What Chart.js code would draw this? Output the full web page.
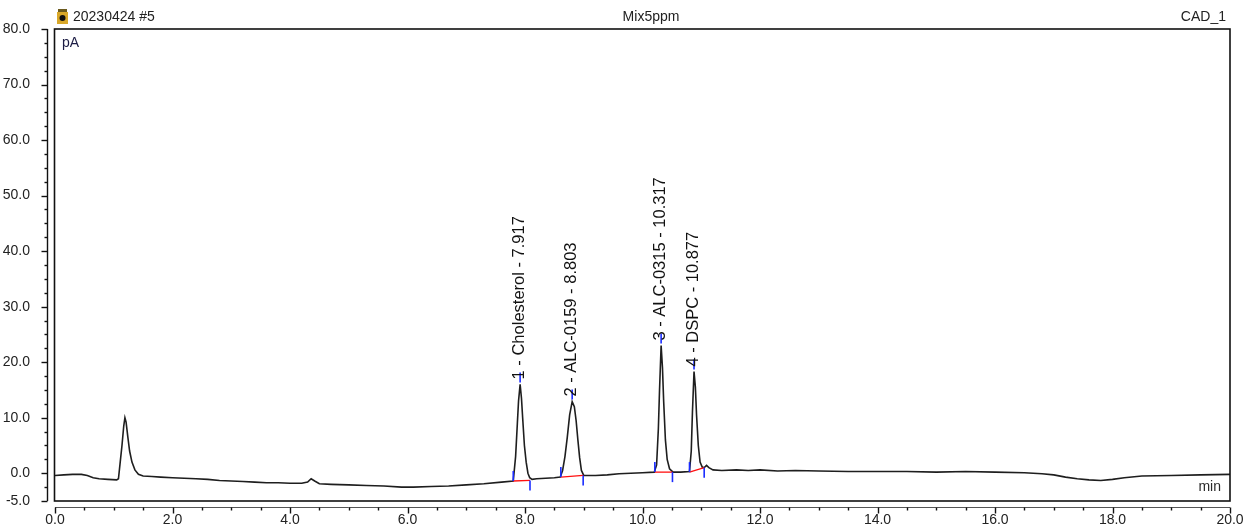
<!DOCTYPE html>
<html>
<head>
<meta charset="utf-8">
<script src="https://cdn.jsdelivr.net/npm/chart.js@4"></script>
<style>
  body { margin: 0; background: #fff; }
  canvas { display: block; }
</style>
</head>
<body>
<canvas id="chrom" width="1246" height="527"></canvas>
<script>
// retention time (min) and detector signal (pA)
let times = [0.00, 0.15, 0.30, 0.45, 0.55, 0.65, 0.75, 0.90, 1.05, 1.08, 1.11, 1.14, 1.17, 1.19, 1.21, 1.24, 1.27, 1.31, 1.36, 1.42,
  1.50, 1.65, 1.80, 2.00, 2.20, 2.40, 2.60, 2.80, 3.00, 3.20, 3.40, 3.60, 3.80, 4.00, 4.20, 4.30, 4.36, 4.42, 4.50, 4.70,
  5.00, 5.30, 5.60, 5.90, 6.10, 6.40, 6.70, 7.00, 7.30, 7.60, 7.80, 7.84, 7.87, 7.89, 7.917, 7.94, 7.96, 7.99, 8.02, 8.05,
  8.08, 8.12, 8.20, 8.35, 8.50, 8.60, 8.64, 8.68, 8.72, 8.76, 8.803, 8.84, 8.87, 8.90, 8.93, 8.96, 9.00, 9.20, 9.40, 9.60,
  9.80, 10.00, 10.20, 10.24, 10.27, 10.29, 10.317, 10.34, 10.36, 10.39, 10.42, 10.46, 10.52, 10.65, 10.80, 10.83, 10.85, 10.877, 10.90, 10.92,
  10.95, 10.98, 11.02, 11.06, 11.09, 11.13, 11.20, 11.35, 11.60, 11.80, 12.00, 12.30, 12.60, 13.00, 13.50, 14.00, 14.50, 15.00, 15.50, 16.00,
  16.50, 16.80, 17.00, 17.20, 17.40, 17.60, 17.80, 18.00, 18.20, 18.50, 19.00, 19.50, 20.00];
let signal = [-0.4, -0.3, -0.2, -0.2, -0.4, -0.8, -1.0, -1.1, -1.2, -1.0, 2.0, 5.0, 8.5, 10.0, 9.2, 6.5, 4.0, 2.0, 0.6, -0.2,
  -0.5, -0.6, -0.7, -0.8, -0.9, -1.0, -1.1, -1.3, -1.4, -1.5, -1.6, -1.7, -1.7, -1.8, -1.8, -1.6, -1.0, -1.4, -1.9, -2.0,
  -2.1, -2.2, -2.3, -2.5, -2.5, -2.4, -2.3, -2.1, -1.9, -1.6, -1.4, 3.0, 9.0, 13.0, 16.0, 13.5, 10.0, 5.0, 2.0, 0.0,
  -0.8, -1.1, -1.0, -0.9, -0.8, -0.7, 0.5, 3.0, 6.5, 10.5, 12.9, 12.0, 9.5, 6.0, 2.8, 0.5, -0.4, -0.4, -0.3, -0.1,
  0.0, 0.1, 0.2, 1.5, 8.0, 15.0, 23.0, 19.0, 13.0, 6.0, 2.5, 0.8, 0.2, 0.2, 0.3, 4.0, 11.0, 18.3, 15.5, 10.5,
  5.0, 2.0, 1.0, 1.1, 1.4, 1.0, 0.6, 0.5, 0.6, 0.5, 0.6, 0.4, 0.5, 0.4, 0.3, 0.3, 0.3, 0.2, 0.3, 0.2,
  0.1, -0.1, -0.3, -0.7, -1.0, -1.2, -1.3, -1.1, -0.8, -0.5, -0.4, -0.3, -0.2];

// peak table
let peakNames = ['Cholesterol', 'ALC-0159', 'ALC-0315', 'DSPC'];
let peakTimes = [7.917, 8.803, 10.317, 10.877];
let peakHeights = [16.0, 12.9, 23.0, 18.3];
let startTimes = [7.80, 8.61, 10.21, 10.80];
let startValues = [-1.4, -0.7, 0.2, 0.2];
let endTimes = [8.085, 8.99, 10.51, 11.05];
let endValues = [-1.3, -0.4, 0.2, 1.0];

let xTicks = [0, 2, 4, 6, 8, 10, 12, 14, 16, 18, 20];
let yTicks = [-5, 0, 10, 20, 30, 40, 50, 60, 70, 80];
let xMinorStep = 0.5;
let yMinorStep = 2.5;

const FONT = "'Liberation Sans', Arial, sans-serif";

const chromPlugin = {
  id: 'chrom',
  afterDatasetsDraw(chart) {
    const ctx = chart.ctx;
    const a = chart.chartArea;
    const xs = chart.scales.x;
    const ys = chart.scales.y;
    ctx.save();

    // integration baselines and marks
    for (let i = 0; i < peakNames.length; i++) {
      const sx = xs.getPixelForValue(startTimes[i]);
      const sy = ys.getPixelForValue(startValues[i]);
      const ex = xs.getPixelForValue(endTimes[i]);
      const ey = ys.getPixelForValue(endValues[i]);
      ctx.strokeStyle = '#ff1010';
      ctx.lineWidth = 1.3;
      ctx.beginPath(); ctx.moveTo(sx, sy); ctx.lineTo(ex, ey); ctx.stroke();
      ctx.strokeStyle = '#1a2cff';
      ctx.lineWidth = 1.6;
      ctx.beginPath(); ctx.moveTo(sx, sy); ctx.lineTo(sx, sy - 10); ctx.stroke();
      ctx.beginPath(); ctx.moveTo(ex, ey); ctx.lineTo(ex, ey + 10); ctx.stroke();

      const px = xs.getPixelForValue(peakTimes[i]);
      const py = ys.getPixelForValue(peakHeights[i]);
      ctx.beginPath(); ctx.moveTo(px, py - 2); ctx.lineTo(px, py - 12); ctx.stroke();

      ctx.save();
      ctx.translate(px - 0.5, py - 5);
      ctx.rotate(-Math.PI / 2);
      ctx.fillStyle = '#111';
      ctx.font = '16.5px ' + FONT;
      ctx.textAlign = 'left';
      ctx.textBaseline = 'middle';
      ctx.fillText((i + 1) + ' - ' + peakNames[i] + ' - ' + peakTimes[i].toFixed(3), 0, 0);
      ctx.restore();
    }

    // frame
    ctx.strokeStyle = '#111';
    ctx.lineWidth = 1.6;
    ctx.strokeRect(a.left - 0.5, a.top, a.right - a.left + 0.5, a.bottom - a.top);

    // y spine with ticks
    const yx = a.left - 7.5;
    ctx.lineWidth = 1.4;
    ctx.beginPath(); ctx.moveTo(yx, ys.getPixelForValue(ys.max)); ctx.lineTo(yx, ys.getPixelForValue(ys.min)); ctx.stroke();
    for (let v = ys.min; v <= ys.max + 0.001; v += yMinorStep) {
      const y = Math.round(ys.getPixelForValue(v)) + 0.5;
      const major = yTicks.includes(v);
      ctx.beginPath(); ctx.moveTo(yx, y); ctx.lineTo(yx - (major ? 6 : 3), y); ctx.stroke();
    }

    // x spine with ticks
    const xy = a.bottom + 6.5;
    ctx.lineWidth = 1;
    ctx.strokeStyle = '#555';
    ctx.beginPath(); ctx.moveTo(a.left, xy); ctx.lineTo(a.right, xy); ctx.stroke();
    ctx.strokeStyle = '#111';
    ctx.lineWidth = 1.4;
    for (let v = xs.min; v <= xs.max + 0.001; v += xMinorStep) {
      const x = Math.round(xs.getPixelForValue(v)) + 0.5;
      const major = xTicks.includes(v);
      ctx.beginPath(); ctx.moveTo(x, xy); ctx.lineTo(x, xy + (major ? 6 : 3)); ctx.stroke();
    }

    // header texts
    ctx.font = '14px ' + FONT;
    ctx.fillStyle = '#222';
    ctx.textBaseline = 'alphabetic';
    ctx.textAlign = 'left';
    ctx.fillText('20230424 #5', 73, 21);
    ctx.textAlign = 'center';
    ctx.fillText('Mix5ppm', 651, 21);
    ctx.textAlign = 'right';
    ctx.fillText('CAD_1', 1226, 21);

    // vial icon
    ctx.fillStyle = '#6b5a1e';
    ctx.fillRect(58, 9, 9, 3);
    ctx.fillStyle = '#d9a82a';
    ctx.fillRect(57, 12, 11, 12);
    ctx.fillStyle = '#111';
    ctx.beginPath(); ctx.arc(62.5, 18, 3, 0, Math.PI * 2); ctx.fill();

    // unit labels
    ctx.fillStyle = '#1c1c44';
    ctx.textAlign = 'left';
    ctx.fillText('pA', 62, 47);
    ctx.fillStyle = '#2a2a2a';
    ctx.textAlign = 'right';
    ctx.fillText('min', 1221, 491);

    ctx.restore();
  }
};

const ctx = document.getElementById('chrom').getContext('2d');
const chromChart = new Chart(ctx, {
  type: 'line',
  data: {
    datasets: [{
      data: times.map((t, i) => ({ x: t, y: signal[i] })),
      borderColor: '#1e1e1e',
      borderWidth: 1.6,
      pointRadius: 0,
      tension: 0
    }]
  },
  options: {
    responsive: false,
    animation: false,
    devicePixelRatio: 1,
    layout: { padding: { top: 29, right: 16, left: 0, bottom: 0 } },
    plugins: { legend: { display: false }, tooltip: { enabled: false } },
    scales: {
      x: {
        type: 'linear', min: 0, max: 20,
        grid: { display: false }, border: { display: false },
        ticks: { color: '#222', font: { family: FONT, size: 14 }, padding: 3, maxRotation: 0,
          callback: v => v.toFixed(1) },
        afterFit(s) { s.height = 26; s.paddingLeft = 0; s.paddingRight = 0; },
        afterBuildTicks(s) { s.ticks = xTicks.map(v => ({ value: v })); }
      },
      y: {
        type: 'linear', min: -5, max: 80,
        grid: { display: false }, border: { display: false },
        ticks: { color: '#222', font: { family: FONT, size: 14 }, padding: 17,
          callback: v => v.toFixed(1) },
        afterFit(s) { s.width = 55; s.paddingTop = 0; s.paddingBottom = 0; },
        afterBuildTicks(s) { s.ticks = yTicks.map(v => ({ value: v })); }
      }
    }
  },
  plugins: [chromPlugin]
});
</script>
</body>
</html>
